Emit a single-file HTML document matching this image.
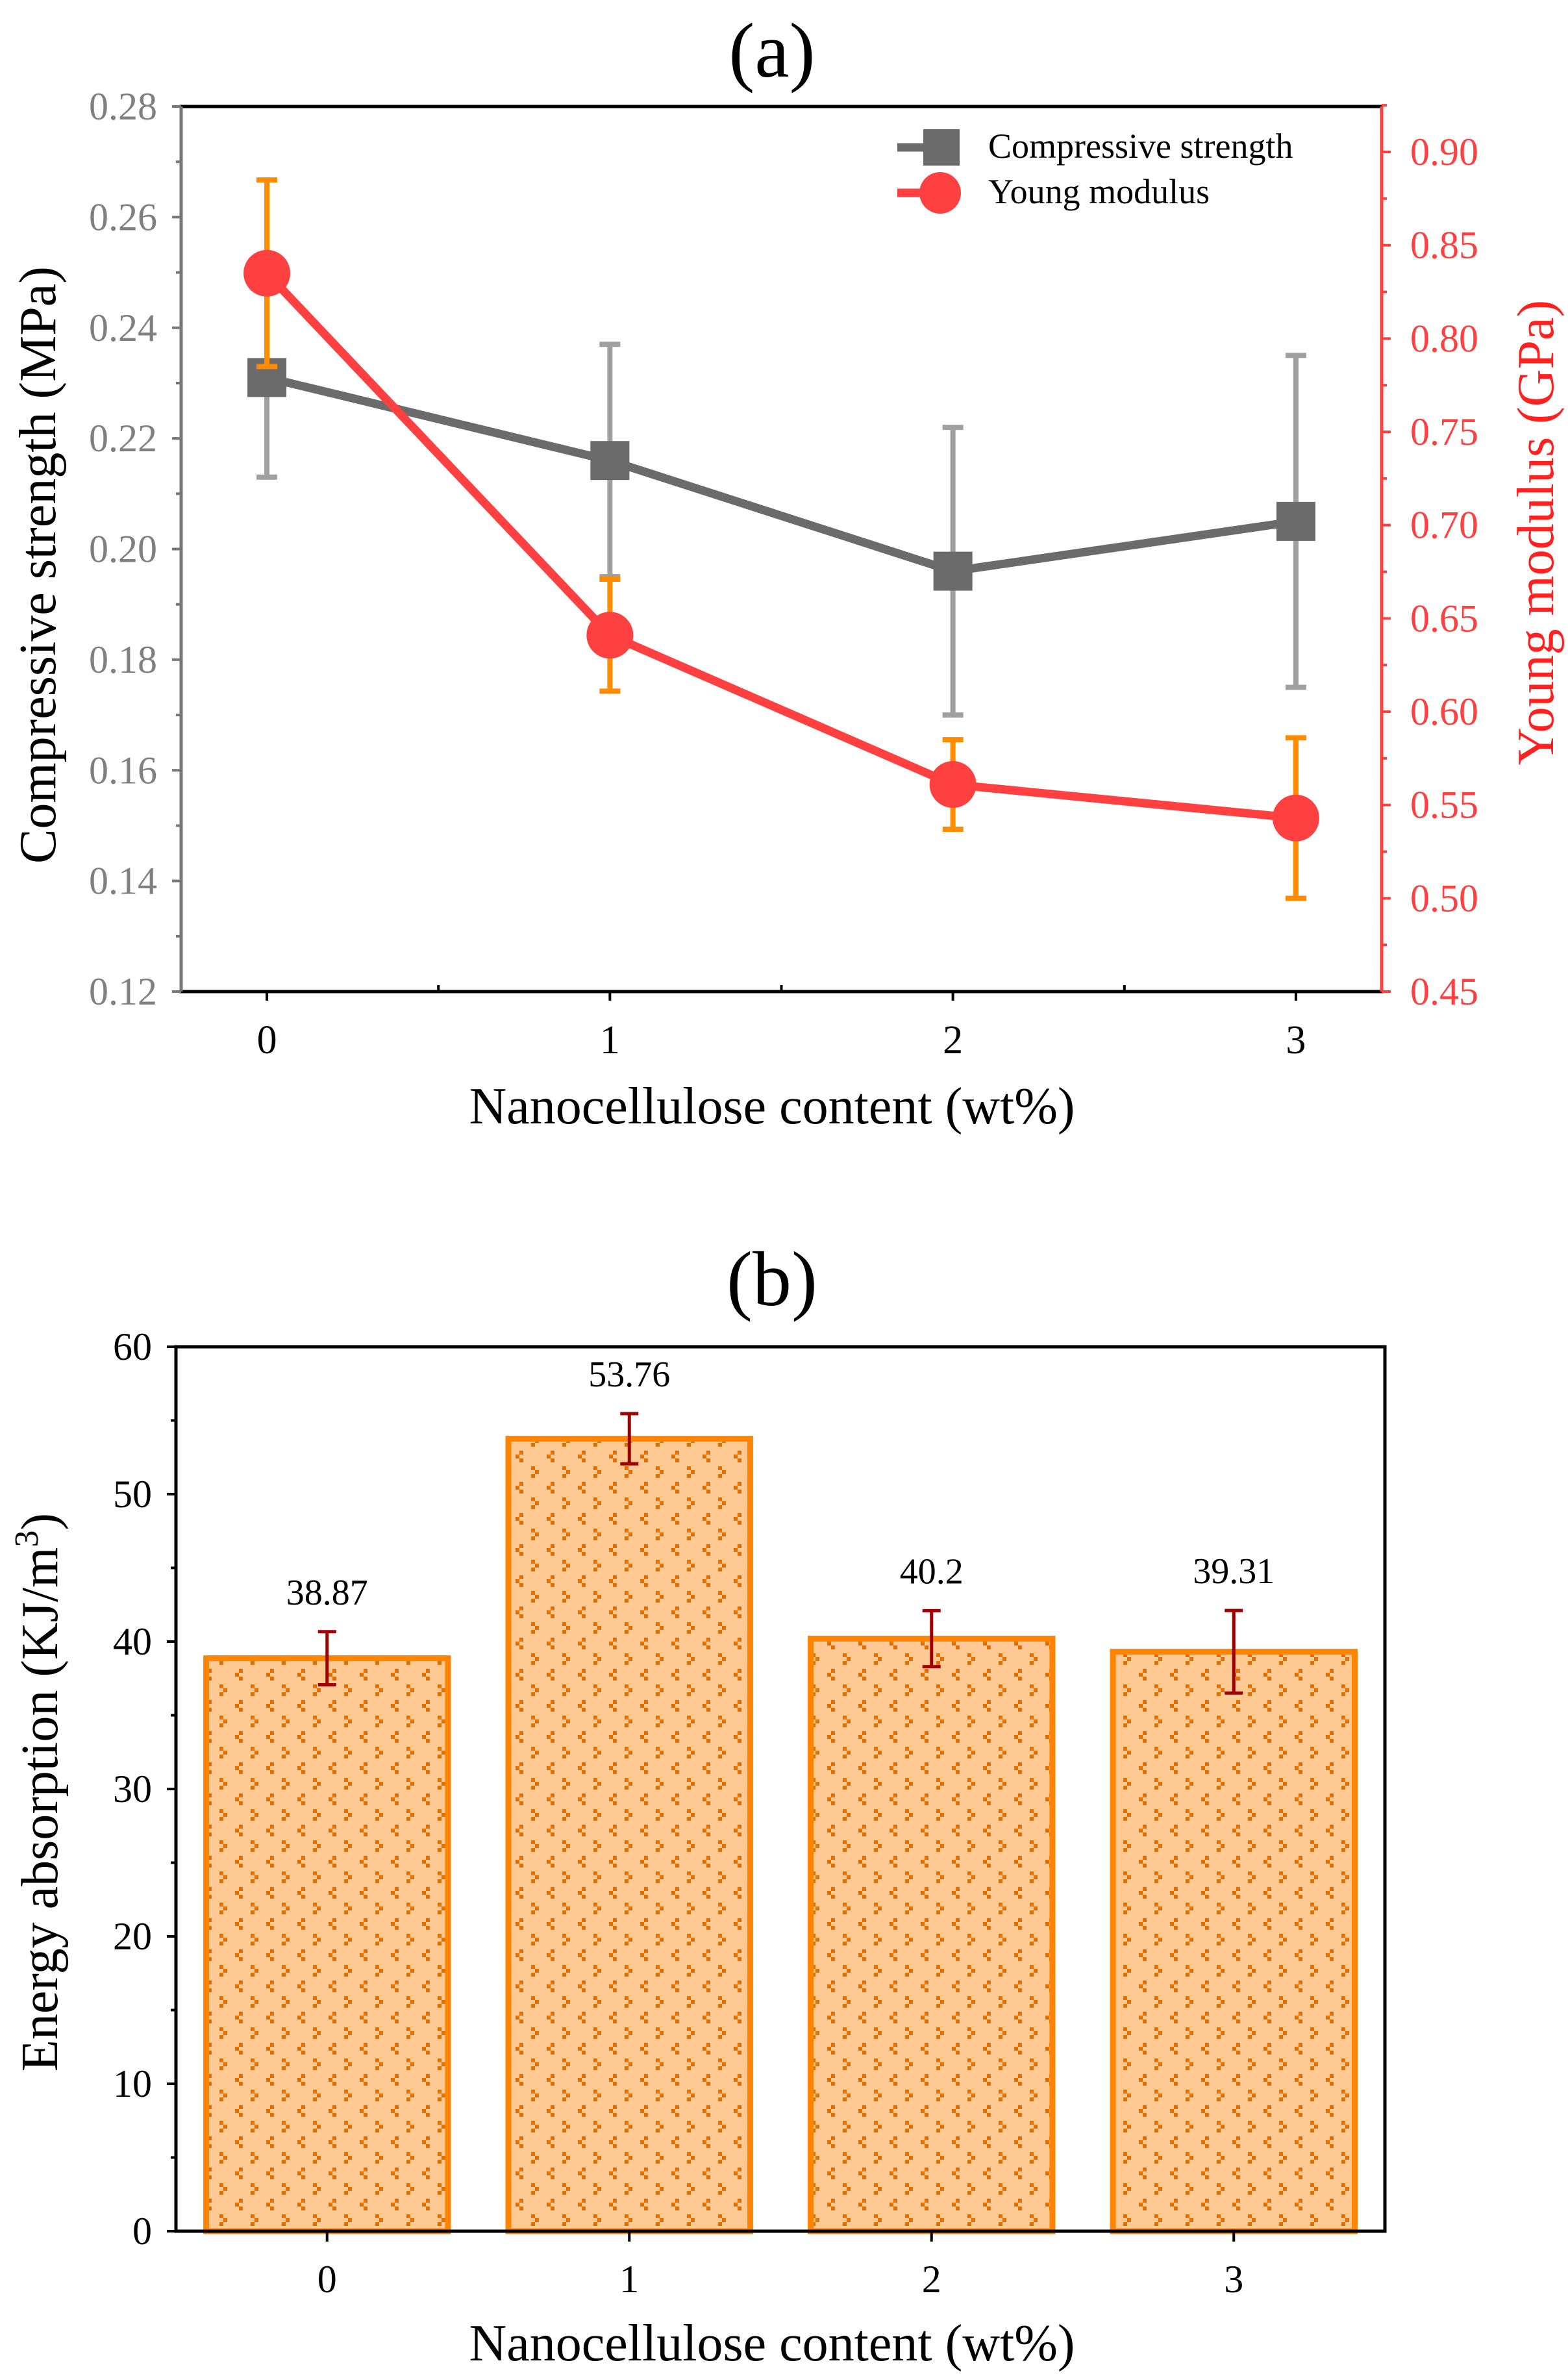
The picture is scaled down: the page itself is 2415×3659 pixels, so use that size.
<!DOCTYPE html>
<html><head><meta charset="utf-8">
<style>
html,body{margin:0;padding:0;background:#fff;}
svg{display:block;font-family:"Liberation Serif",serif;}
</style></head>
<body>
<svg id="chart" width="2415" height="3659" viewBox="0 0 2415 3659" xmlns="http://www.w3.org/2000/svg">
<defs>
<pattern id="dots" width="48" height="48" patternUnits="userSpaceOnUse">
<rect width="48" height="48" fill="#ffc993"/>
<rect x="2" y="2" width="6" height="6" fill="#e07000"/><rect x="8" y="8" width="6" height="6" fill="#e07000"/><rect x="2" y="14" width="6" height="6" fill="#e07000"/>
<rect x="32" y="26" width="6" height="6" fill="#e07000"/><rect x="26" y="32" width="6" height="6" fill="#e07000"/><rect x="32" y="38" width="6" height="6" fill="#e07000"/>
</pattern>
</defs>
<g id="a"></g>
<g id="b"></g>
</svg>
<script>
const xCats=[0,1,2,3];
const csVals=[0.231,0.216,0.196,0.205];
const csErr=[0.018,0.021,0.026,0.030];
const ymVals=[0.835,0.641,0.561,0.543];
const ymErr=[0.050,0.030,0.024,0.043];
const leftTicks=[0.12,0.14,0.16,0.18,0.20,0.22,0.24,0.26,0.28];
const rightTicks=[0.45,0.50,0.55,0.60,0.65,0.70,0.75,0.80,0.85,0.90];
const barVals=[38.87,53.76,40.2,39.31];
const barErr=[1.8,1.7,1.9,2.8];
const barLabels=["38.87","53.76","40.2","39.31"];
const bTicks=[0,10,20,30,40,50,60];

const NS="http://www.w3.org/2000/svg";
function mk(p,tag,at,txt){const e=document.createElementNS(NS,tag);for(const k in at)e.setAttribute(k,at[k]);if(txt!==undefined)e.textContent=txt;p.appendChild(e);return e;}

// ---- chart a
const A=document.getElementById('a');
const aL=279,aR=2128,aT=164,aB=1527;
const ax=v=>aL+(v+0.25)/3.5*(aR-aL);
const ayL=v=>aB-(v-0.12)/0.16*(aB-aT);
const ayR=v=>aB-(v-0.45)/0.45*(aB-234);
let t=mk(A,'text',{x:1189,y:118,'font-size':120,'text-anchor':'middle'},'(a)');


let e=mk(A,'rect',{x:aL,y:aT,width:aR-aL,height:aB-aT,fill:'none',stroke:'#000','stroke-width':5});


mk(A,'line',{x1:aL,y1:aT,x2:aL,y2:aB,stroke:'#777','stroke-width':5});
mk(A,'line',{x1:aR,y1:aT,x2:aR,y2:aB,stroke:'#ff4040','stroke-width':5});
leftTicks.forEach((v,i)=>{const y=ayL(v);
 mk(A,'line',{x1:aL-14,y1:y,x2:aL,y2:y,stroke:'#777','stroke-width':4});
 if(i<leftTicks.length-1)mk(A,'line',{x1:aL-8,y1:ayL(v+0.01),x2:aL,y2:ayL(v+0.01),stroke:'#777','stroke-width':4});
 const l=mk(A,'text',{x:242,y:y+20,'font-size':60,fill:'#808080','text-anchor':'end'},v.toFixed(2));
 
 });
rightTicks.forEach((v,i)=>{const y=ayR(v);
 mk(A,'line',{x1:aR,y1:y,x2:aR+14,y2:y,stroke:'#ff4040','stroke-width':4});
 mk(A,'line',{x1:aR,y1:ayR(v+0.025),x2:aR+8,y2:ayR(v+0.025),stroke:'#ff4040','stroke-width':4});
 const l=mk(A,'text',{x:2172,y:y+20,'font-size':60,fill:'#ff4040'},v.toFixed(2));
 
 });
xCats.forEach(c=>{const x=ax(c);
 mk(A,'line',{x1:x,y1:aB,x2:x,y2:aB+14,stroke:'#000','stroke-width':4});
 if(c<3)mk(A,'line',{x1:ax(c+0.5),y1:aB,x2:ax(c+0.5),y2:aB-10,stroke:'#000','stroke-width':4});
 const l=mk(A,'text',{x:x,y:1622,'font-size':62,'text-anchor':'middle'},String(c));
 
 });
t=mk(A,'text',{x:1189,y:1730,'font-size':80,'text-anchor':'middle'},'Nanocellulose content (wt%)');


t=mk(A,'text',{x:0,y:0,'font-size':80,'text-anchor':'middle',transform:'translate(85,870) rotate(-90)'},'Compressive strength (MPa)');


t=mk(A,'text',{x:0,y:0,'font-size':80,'text-anchor':'middle',fill:'#ff2020',transform:'translate(2392,820) rotate(-90)'},'Young modulus (GPa)');


// compressive series
mk(A,'polyline',{points:xCats.map((c,i)=>ax(c)+','+ayL(csVals[i])).join(' '),fill:'none',stroke:'#6b6b6b','stroke-width':13});
xCats.forEach((c,i)=>{const x=ax(c);
 const g=mk(A,'g',{});
 
 
 mk(g,'line',{x1:x,y1:ayL(csVals[i]-csErr[i]),x2:x,y2:ayL(csVals[i]+csErr[i]),stroke:'#a0a0a0','stroke-width':8});
 [csVals[i]-csErr[i],csVals[i]+csErr[i]].forEach(v=>mk(g,'line',{x1:x-16,y1:ayL(v),x2:x+16,y2:ayL(v),stroke:'#a0a0a0','stroke-width':8}));
 const m=mk(A,'rect',{x:x-30,y:ayL(csVals[i])-30,width:60,height:60,fill:'#6b6b6b'});
 
 });
// young series
mk(A,'polyline',{points:xCats.map((c,i)=>ax(c)+','+ayR(ymVals[i])).join(' '),fill:'none',stroke:'#ff4040','stroke-width':13});
xCats.forEach((c,i)=>{const x=ax(c);
 const g=mk(A,'g',{});
 
 
 mk(g,'line',{x1:x,y1:ayR(ymVals[i]-ymErr[i]),x2:x,y2:ayR(ymVals[i]+ymErr[i]),stroke:'#ff8c00','stroke-width':8});
 [ymVals[i]-ymErr[i],ymVals[i]+ymErr[i]].forEach(v=>mk(g,'line',{x1:x-16,y1:ayR(v),x2:x+16,y2:ayR(v),stroke:'#ff8c00','stroke-width':8}));
 const m=mk(A,'ellipse',{cx:x,cy:ayR(ymVals[i]),rx:36,ry:36,fill:'#ff4040'});
 
 });
// legend
let lg=mk(A,'g',{});


mk(lg,'line',{x1:1382,y1:227,x2:1478,y2:227,stroke:'#6b6b6b','stroke-width':13});
mk(lg,'rect',{x:1422,y:199,width:56,height:56,fill:'#6b6b6b'});
mk(lg,'text',{x:1522,y:243,'font-size':54},'Compressive strength');
lg=mk(A,'g',{});


mk(lg,'line',{x1:1382,y1:297,x2:1478,y2:297,stroke:'#ff4040','stroke-width':13});
mk(lg,'ellipse',{cx:1448,cy:297,rx:32,ry:32,fill:'#ff4040'});
mk(lg,'text',{x:1522,y:313,'font-size':54},'Young modulus');

// ---- chart b
const B=document.getElementById('b');
const bL=271,bR=2133,bT=2074,bB=3436;
const bx=v=>bL+(v+0.5)/4*(bR-bL);
const by=v=>bB-v/60*(bB-bT);
t=mk(B,'text',{x:1189,y:2010,'font-size':120,'text-anchor':'middle'},'(b)');


const bw=0.8*(bR-bL)/4;
xCats.forEach((c,i)=>{const x=bx(c);
 const r=mk(B,'rect',{x:x-bw/2,y:by(barVals[i]),width:bw,height:bB-by(barVals[i]),fill:'url(#dots)',stroke:'#ff8400','stroke-width':9});
 
 
 const g=mk(B,'g',{});
 
 
 mk(g,'line',{x1:x,y1:by(barVals[i]-barErr[i]),x2:x,y2:by(barVals[i]+barErr[i]),stroke:'#a00000','stroke-width':5});
 [barVals[i]-barErr[i],barVals[i]+barErr[i]].forEach(v=>mk(g,'line',{x1:x-14,y1:by(v),x2:x+14,y2:by(v),stroke:'#a00000','stroke-width':5}));
 const l=mk(B,'text',{x:x,y:by(barVals[i]+barErr[i])-42,'font-size':56,'text-anchor':'middle'},barLabels[i]);
 
 
 mk(B,'line',{x1:x,y1:bB,x2:x,y2:bB+16,stroke:'#000','stroke-width':4});
 const xl=mk(B,'text',{x:x,y:3530,'font-size':60,'text-anchor':'middle'},String(c));
 
 });
e=mk(B,'rect',{x:bL,y:bT,width:bR-bL,height:bB-bT,fill:'none',stroke:'#000','stroke-width':5});


bTicks.forEach((v,i)=>{const y=by(v);
 mk(B,'line',{x1:bL-14,y1:y,x2:bL,y2:y,stroke:'#000','stroke-width':4});
 if(i<bTicks.length-1)mk(B,'line',{x1:bL-8,y1:by(v+5),x2:bL,y2:by(v+5),stroke:'#000','stroke-width':4});
 const l=mk(B,'text',{x:234,y:y+20,'font-size':60,'text-anchor':'end'},String(v));
 
 });
t=mk(B,'text',{x:1189,y:3635,'font-size':80,'text-anchor':'middle'},'Nanocellulose content (wt%)');


t=mk(B,'text',{x:0,y:0,'font-size':80,'text-anchor':'middle',transform:'translate(88,2760) rotate(-90)'});


t.appendChild(document.createTextNode('Energy absorption (KJ/m'));
mk(t,'tspan',{dy:-30,'font-size':52},'3');
mk(t,'tspan',{dy:30},')');
</script>
</body></html>
